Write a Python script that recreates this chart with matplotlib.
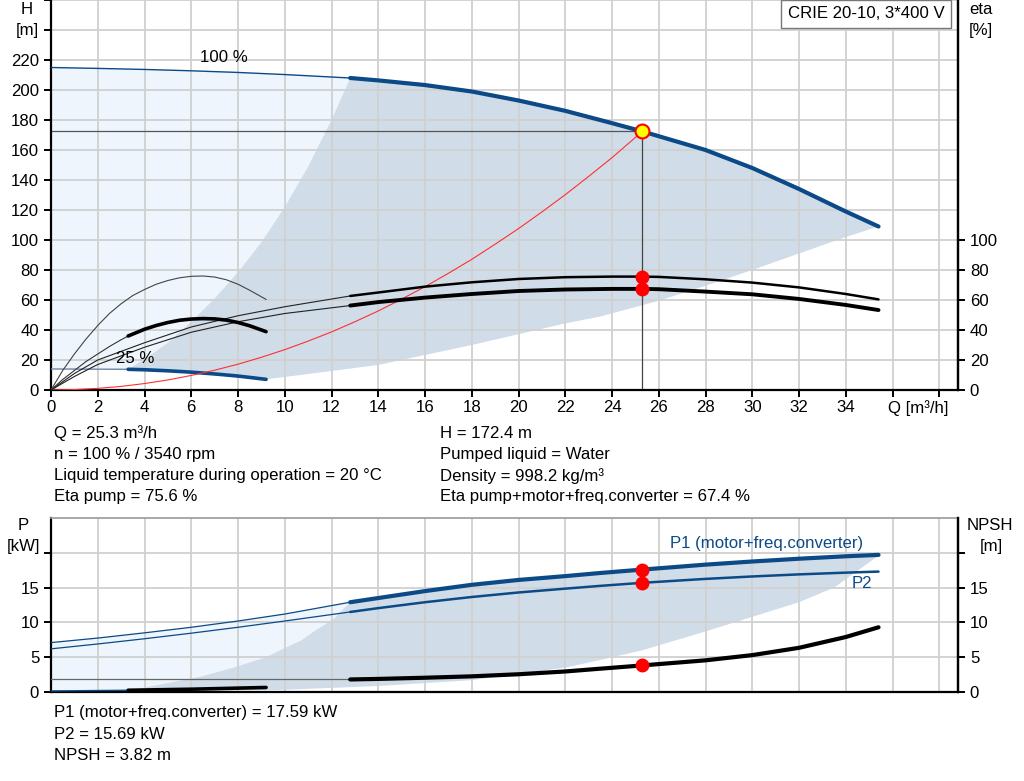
"""
Pump curve chart (CRIE 20-10) - H / eta panel and P / NPSH panel
"""
import matplotlib
matplotlib.use('Agg')
import matplotlib.pyplot as plt
import numpy as np

plt.rcParams['font.family'] = ['Liberation Sans', 'DejaVu Sans']

# ---- top panel data (Q in m3/h, H in m, eta in %) ----
q_h100 = [0, 2, 4, 6, 8, 10, 12.8, 14, 16, 18, 20, 22, 24, 25.3, 28, 30, 32, 34, 35.4]
h100 = [215, 214.4, 213.7, 212.8, 211.7, 210.3, 208, 206.4, 203.3, 199, 193, 186.1, 177.9,
        172.4, 160, 148, 134, 119, 109]

q_h25 = [0, 3.3, 4, 5, 6, 7, 8, 9.2]
h25 = [14, 13.8, 13.5, 12.8, 11.9, 10.7, 9.3, 7.1]

q_eta = [0, 1, 2, 4, 6, 8, 10, 12.8, 14, 16, 18, 20, 22, 24, 25.3, 26, 28, 30, 32, 34, 35.4]
eta_pump = [0, 11, 20, 31.5, 42, 49.5, 55.5, 62.7, 65, 68.9, 71.8, 74, 75.2, 75.6, 75.6,
            75.4, 73.8, 71.6, 68.4, 64, 60.4]
eta_total = [0, 9, 17, 28.5, 38.5, 45.5, 51, 56.3, 58.6, 61.6, 64, 66, 67, 67.4, 67.4,
             67.2, 65.6, 63.8, 60.7, 56.7, 53.3]

q_eta25_pump = [0, 0.5, 1, 1.5, 2, 2.5, 3, 3.5, 4, 4.5, 5, 5.5, 6, 6.5, 7, 7.5, 8, 8.5, 9.2]
eta25_pump = [0, 13, 24, 34, 43, 51, 57.5, 63, 67, 70.5, 73, 74.8, 75.8, 76, 75.3, 73.5,
              70.5, 66.5, 60.4]
q_eta25_total = [0, 0.5, 1, 1.5, 2, 2.5, 3, 3.3, 4, 4.5, 5, 5.5, 6, 6.5, 7, 7.5, 8, 8.5, 9.2]
eta25_total = [0, 7, 13, 19, 24, 29, 33.5, 36, 40.5, 43, 45, 46.5, 47.3, 47.6, 47.4, 46.6,
               45, 42.8, 38.9]

q_sys = [0, 1, 2, 3, 4, 5, 6, 7, 8, 9, 10, 11, 12, 13, 14, 15, 16, 17, 18, 19, 20, 21, 22,
         23, 24, 25.3]
h_sys = [0, 0.3, 1.1, 2.4, 4.3, 6.7, 9.7, 13.2, 17.2, 21.8, 26.9, 32.6, 38.7, 45.5, 52.7,
         60.6, 68.9, 77.8, 87.1, 97.2, 107.6, 118.7, 130.2, 142.4, 154.9, 172.4]

# boundaries of the shaded operating area
q_left = [3.3, 4, 5, 6, 7, 8, 9, 10, 11, 12, 12.8]
h_left = [13.8, 20.5, 31.5, 45.5, 61, 78.5, 98.5, 122, 149, 180, 208]
q_right = [9.2, 10.66, 14, 18, 22, 23.5, 26, 28, 30, 32, 34, 35.4]
h_right = [7.1, 10, 16.7, 30, 44.4, 49, 59.5, 69.5, 80, 91, 102, 109]

# duty point
q_duty = 25.3
h_duty = 172.4
eta_pump_duty = 75.6
eta_total_duty = 67.4

# ---- bottom panel data (P in kW, NPSH in m) ----
q_p = [0, 2, 4, 6, 8, 10, 12.8, 14, 16, 18, 20, 22, 23.5, 25.3, 28, 30, 32, 34, 35.4]
p1 = [7.1, 7.75, 8.5, 9.3, 10.2, 11.2, 12.9, 13.5, 14.5, 15.4, 16.1, 16.65, 17.1, 17.59,
      18.3, 18.75, 19.15, 19.5, 19.7]
p2 = [6.2, 6.9, 7.65, 8.45, 9.3, 10.2, 11.5, 12.05, 12.9, 13.65, 14.3, 14.85, 15.25, 15.69,
      16.25, 16.6, 16.9, 17.15, 17.3]
q_npsh = [0, 12.8, 14, 16, 18, 20, 22, 23.5, 25.3, 28, 30, 32, 34, 35.4]
npsh = [1.8, 1.8, 1.88, 2.05, 2.25, 2.55, 2.95, 3.35, 3.82, 4.55, 5.3, 6.35, 7.9, 9.3]
q_p25 = [0, 3.3, 6, 9.2]
p25 = [0.15, 0.25, 0.4, 0.65]

q_pleft = [3.3, 6.4, 7.8, 9.2, 9.8, 10.7, 11.2, 12.1, 12.8]
p_left = [0.2, 2.2, 3.5, 5.0, 6.0, 7.4, 8.6, 10.5, 12.9]
q_pright = [3.3, 9.8, 14, 18, 22, 23.5, 25.3, 28, 30, 32, 33.5, 35.4]
p_right = [0.1, 0.3, 0.86, 1.7, 3.5, 4.6, 6.0, 8.7, 10.8, 12.9, 15.0, 19.6]

p1_duty = 17.59
p2_duty = 15.69
npsh_duty = 3.82

BLUE = '#0b4a87'
DARK_FILL = '#d0dce8'
LIGHT_FILL = '#eef5fc'
GRID = '#d0d0d0'
FS = 12.1
Q_SPLIT = 12.8
Q_SPLIT25 = 3.3


def split(q, v, at):
    """Split a curve into thin part (q <= at) and thick part (q >= at)."""
    q = np.asarray(q, float)
    v = np.asarray(v, float)
    lo = q <= at
    hi = q >= at
    return (q[lo], v[lo]), (q[hi], v[hi])


def style_axes(ax, ymax, ystep):
    ax.set_xlim(0, 38.8)
    ax.set_ylim(0, ymax)
    ax.set_xticks(np.arange(0, 39, 2))
    ax.set_yticks(np.arange(0, ymax + 0.01, ystep))
    ax.grid(True, color=GRID, linewidth=1.3)
    ax.set_axisbelow(True)
    for s in ('left', 'right', 'bottom'):
        ax.spines[s].set_linewidth(1.6)
        ax.spines[s].set_color('black')
    ax.tick_params(labelsize=FS, width=1.4, length=5, direction='out')


def right_axis(ax, ymax, ticks, labels):
    r = ax.twinx()
    r.set_ylim(0, ymax)
    r.set_yticks(ticks, labels)
    r.tick_params(labelsize=FS, width=1.4, length=5)
    for s in ('left', 'top', 'bottom'):
        r.spines[s].set_visible(False)
    r.spines['right'].set_linewidth(1.6)
    return r


fig = plt.figure(figsize=(10.24, 7.81), dpi=100)

# ================= top panel =================
ax = fig.add_axes([51 / 1024, 391 / 781, 907 / 1024, 390 / 781])
style_axes(ax, 260, 20)
ax.spines['top'].set_visible(False)
ax.set_yticks(np.arange(0, 261, 20), [str(v) if v <= 220 else '' for v in range(0, 261, 20)])
xt = np.arange(0, 39, 2)
ax.set_xticks(xt, [str(v) if v <= 34 else '' for v in xt])
ax.tick_params(axis='x', pad=2)

# shaded areas
(qa, ha), (qb, hb) = split(q_h100, h100, Q_SPLIT)
light_x = list(qa) + q_left[::-1] + [q_h25[1], q_h25[0]]
light_y = list(ha) + h_left[::-1] + [h25[1], h25[0]]
ax.fill(light_x, light_y, color=LIGHT_FILL, lw=0, zorder=0.2)
(q25a, h25a), (q25b, h25b) = split(q_h25, h25, Q_SPLIT25)
dark_x = list(qb) + q_right[::-1] + list(q25b[::-1]) + q_left
dark_y = list(hb) + h_right[::-1] + list(h25b[::-1]) + h_left
ax.fill(dark_x, dark_y, color=DARK_FILL, lw=0, zorder=0.3)

# duty lines
ax.plot([0, q_duty], [h_duty, h_duty], color='#555555', lw=0.9, zorder=2)
ax.plot([q_duty, q_duty], [h_duty, 0], color='#444444', lw=0.9, zorder=2)

# H curves
ax.plot(qa, ha, color=BLUE, lw=1.0, zorder=3)
ax.plot(qb, hb, color=BLUE, lw=3.0, zorder=3, solid_capstyle='round', solid_joinstyle='round')
ax.plot(q25a, h25a, color='#6e86a8', lw=1.0, zorder=3)
ax.plot(q25b, h25b, color=BLUE, lw=2.6, zorder=3, solid_capstyle='round')

# system curve
ax.plot(q_sys, h_sys, color='#ff3030', lw=0.8, zorder=3)

# eta curves 100 %
(ea, eav), (eb, ebv) = split(q_eta, eta_pump, Q_SPLIT)
ax.plot(ea, eav, color='#222222', lw=0.8, zorder=3)
ax.plot(eb, ebv, color='black', lw=1.8, zorder=3, solid_capstyle='round')
(ta, tav), (tb, tbv) = split(q_eta, eta_total, Q_SPLIT)
ax.plot(ta, tav, color='#222222', lw=0.8, zorder=3)
ax.plot(tb, tbv, color='black', lw=2.8, zorder=3, solid_capstyle='round')

# eta curves 25 %
ax.plot(q_eta25_pump, eta25_pump, color='#444444', lw=0.8, zorder=3)
(sa, sav), (sb, sbv) = split(q_eta25_total, eta25_total, Q_SPLIT25)
ax.plot(sa, sav, color='#333333', lw=0.8, zorder=3)
ax.plot(sb, sbv, color='black', lw=2.6, zorder=3, solid_capstyle='round')

# duty markers
ax.plot([q_duty, q_duty], [eta_pump_duty, eta_total_duty], 'o', color='red', ms=9, zorder=5)
ax.plot(q_duty, h_duty, 'o', mfc='#ffff00', mec='red', mew=1.5, ms=10, zorder=6)

ax.text(7.4, 222, '100 %', fontsize=FS, ha='center', va='center')
ax.text(3.6, 21, '25 %', fontsize=FS, ha='center', va='center')
ax.text(37.1, -12, 'Q [m³/h]', fontsize=FS, ha='center', va='center', clip_on=False)

right_axis(ax, 260, np.arange(0, 101, 20), [str(v) for v in range(0, 101, 20)])

# product box
fig.text(866 / 1024, 1 - 14 / 781, 'CRIE 20-10, 3*400 V', fontsize=FS, ha='center', va='center',
         bbox=dict(boxstyle='square,pad=0.4', fc='white', ec='#777777', lw=1))

# axis titles
fig.text(27 / 1024, 1 - 9 / 781, 'H', fontsize=FS, ha='center', va='center')
fig.text(27 / 1024, 1 - 30 / 781, '[m]', fontsize=FS, ha='center', va='center')
fig.text(981 / 1024, 1 - 9 / 781, 'eta', fontsize=FS, ha='center', va='center')
fig.text(981 / 1024, 1 - 30 / 781, '[%]', fontsize=FS, ha='center', va='center')

# info block
left_lines = ['Q = 25.3 m³/h', 'n = 100 % / 3540 rpm',
              'Liquid temperature during operation = 20 °C', 'Eta pump = 75.6 %']
right_lines = ['H = 172.4 m', 'Pumped liquid = Water', 'Density = 998.2 kg/m³',
               'Eta pump+motor+freq.converter = 67.4 %']
for i, (l, r) in enumerate(zip(left_lines, right_lines)):
    y = 1 - (433 + i * 21.3) / 781
    fig.text(54 / 1024, y, l, fontsize=FS, va='center')
    fig.text(440 / 1024, y, r, fontsize=FS, va='center')

# ================= bottom panel =================
bx = fig.add_axes([51 / 1024, 89 / 781, 907 / 1024, 174 / 781])
style_axes(bx, 25, 5)
bx.spines['top'].set_color('#9a9a9a')
bx.spines['top'].set_linewidth(1.2)
bx.tick_params(axis='x', bottom=False, labelbottom=False)
bx.set_yticks(np.arange(0, 21, 5), ['0', '5', '10', '15', ''])

(pa, pav), (pb, pbv) = split(q_p, p1, Q_SPLIT)
(p2a, p2av), (p2b, p2bv) = split(q_p, p2, Q_SPLIT)
blight_x = list(pa) + q_pleft[::-1] + [q_p25[1], q_p25[0]]
blight_y = list(pav) + p_left[::-1] + [p25[1], p25[0]]
bx.fill(blight_x, blight_y, color=LIGHT_FILL, lw=0, zorder=0.2)
bdark_x = list(pb) + q_pright[::-1] + q_pleft
bdark_y = list(pbv) + p_right[::-1] + p_left
bx.fill(bdark_x, bdark_y, color=DARK_FILL, lw=0, zorder=0.3)

bx.plot(pa, pav, color=BLUE, lw=0.9, zorder=3)
bx.plot(pb, pbv, color=BLUE, lw=3.0, zorder=3, solid_capstyle='round')
bx.plot(p2a, p2av, color=BLUE, lw=0.9, zorder=3)
bx.plot(p2b, p2bv, color=BLUE, lw=1.8, zorder=3, solid_capstyle='round')

(na, nav), (nb, nbv) = split(q_npsh, npsh, Q_SPLIT)
bx.plot(na, nav, color='#666666', lw=0.9, zorder=3)
bx.plot(nb, nbv, color='black', lw=3.0, zorder=3, solid_capstyle='round')

(ra, rav), (rb, rbv) = split(q_p25, p25, Q_SPLIT25)
bx.plot(ra, rav, color=BLUE, lw=1.0, zorder=3)
bx.plot(rb, rbv, color='black', lw=2.6, zorder=3, solid_capstyle='round')

bx.plot([q_duty] * 3, [p1_duty, p2_duty, npsh_duty], 'o', color='red', ms=9, zorder=5)

bx.text(30.6, 21.3, 'P1 (motor+freq.converter)', fontsize=FS, color=BLUE, ha='center', va='center')
bx.text(34.7, 15.6, 'P2', fontsize=FS, color=BLUE, ha='center', va='center')

right_axis(bx, 25, np.arange(0, 21, 5), ['0', '5', '10', '15', ''])

fig.text(23 / 1024, 1 - 525 / 781, 'P', fontsize=FS, ha='center', va='center')
fig.text(23 / 1024, 1 - 546 / 781, '[kW]', fontsize=FS, ha='center', va='center')
fig.text(990 / 1024, 1 - 525 / 781, 'NPSH', fontsize=FS, ha='center', va='center')
fig.text(991 / 1024, 1 - 546 / 781, '[m]', fontsize=FS, ha='center', va='center')

bottom_lines = ['P1 (motor+freq.converter) = 17.59 kW', 'P2 = 15.69 kW', 'NPSH = 3.82 m']
for i, t in enumerate(bottom_lines):
    fig.text(54 / 1024, 1 - (713 + i * 21.5) / 781, t, fontsize=FS, va='center')

fig.savefig('out.png', dpi=100)
plt.close(fig)
